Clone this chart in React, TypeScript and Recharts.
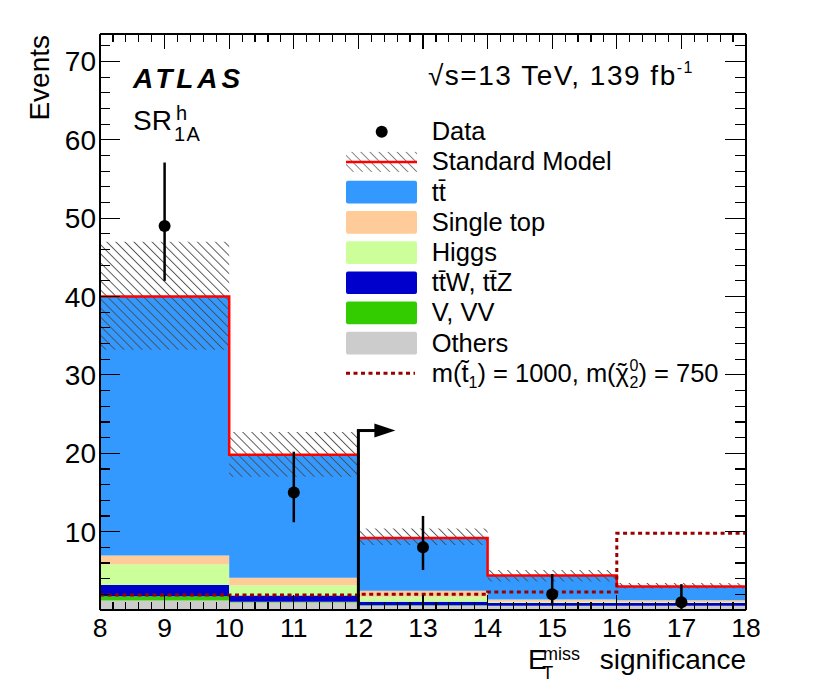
import React from "react";
import {
  ComposedChart,
  Area,
  Line,
  Scatter,
  ErrorBar,
  XAxis,
  YAxis,
  ReferenceLine,
  ReferenceDot,
} from "recharts";

const FONT = "'Liberation Sans', Arial, Helvetica, sans-serif";

// ---------- data ----------
const binEdges = [8, 10, 12, 14, 16, 18];
const others = [1.2, 0.95, 0.55, 0.5, 0.5];
const vVV = [0.55, 0.1, 0.05, 0.05, 0.05];
const ttV = [1.45, 0.8, 0.45, 0.35, 0.35];
const higgs = [2.6, 1.3, 0.65, 0.15, 0.1];
const singleTop = [1.15, 0.95, 0.75, 0.3, 0.25];
const ttbar = [33.05, 15.7, 6.75, 3.05, 1.75];
const smTotal = [40.0, 19.8, 9.2, 4.4, 3.0];
const smErrLow = [33.2, 17.0, 8.3, 3.65, 2.75];
const smErrHigh = [47.0, 22.7, 10.4, 5.1, 3.45];
const signal = [1.9, 1.9, 2.0, 2.3, 9.8];

const dataX = [9, 11, 13, 15, 17];
const dataY = [49, 15, 8, 2, 1];
const dataErrDown = [7.0, 3.8, 2.9, 1.4, 0.85];
const dataErrUp = [8.1, 5.2, 4.0, 2.6, 2.3];

const xMajorTicks = [8, 9, 10, 11, 12, 13, 14, 15, 16, 17, 18];
const yMajorTicks = [0, 10, 20, 30, 40, 50, 60, 70];
const xDomain = [8, 18];
const yDomain = [0, 73.5];
const cutX = 12;
const cutArrowY = 22.9;

const COLORS = {
  ttbar: "#3399ff",
  singleTop: "#ffcc99",
  higgs: "#ccff99",
  ttV: "#0000cc",
  vVV: "#33cc00",
  others: "#cccccc",
  sm: "#ff0000",
  signal: "#990000",
};

// minor ticks (axis decoration only)
const xTicks: number[] = [];
for (let i = 0; i <= 50; i++) xTicks.push(+(8 + i * 0.2).toFixed(1));
const yTicks: number[] = [];
for (let v = 0; v <= 72; v += 2) yTicks.push(v);

const histData = binEdges.map((x, i) => {
  const j = Math.min(i, smTotal.length - 1);
  return {
    x,
    others: others[j],
    vvv: vVV[j],
    ttv: ttV[j],
    higgs: higgs[j],
    singleTop: singleTop[j],
    ttbar: ttbar[j],
    total: smTotal[j],
    band: [smErrLow[j], smErrHigh[j]],
    signal: signal[j],
  };
});

const points = dataX.map((x, i) => ({
  x,
  y: dataY[i],
  err: [dataErrDown[i], dataErrUp[i]],
}));

const isMajorX = (v: number) => xMajorTicks.some((m) => Math.abs(m - v) < 1e-6);
const isMajorY = (v: number) => yMajorTicks.includes(v);

const TICK_W = 1.2;

const BottomTick = (props: any) => {
  const { x, y, payload } = props;
  const v = payload.value;
  const major = isMajorX(v);
  return (
    <g>
      <line x1={x} x2={x} y1={y} y2={y - (major ? 15 : 8)} stroke="#000" strokeWidth={TICK_W} shapeRendering="crispEdges" />
      {major && (
        <text x={x} y={y + 27} textAnchor="middle" fontSize={26.5} fontFamily={FONT} fill="#000">
          {Math.round(v)}
        </text>
      )}
    </g>
  );
};

const TopTick = (props: any) => {
  const { x, y, payload } = props;
  const major = isMajorX(payload.value);
  return <line x1={x} x2={x} y1={y} y2={y + (major ? 15 : 8)} stroke="#000" strokeWidth={TICK_W} shapeRendering="crispEdges" />;
};

const LeftTick = (props: any) => {
  const { x, y, payload } = props;
  const v = payload.value;
  const major = isMajorY(v);
  return (
    <g>
      <line x1={x} x2={x + (major ? 20 : 10)} y1={y} y2={y} stroke="#000" strokeWidth={TICK_W} shapeRendering="crispEdges" />
      {major && v !== 0 && (
        <text x={x - 4} y={y + 10} textAnchor="end" fontSize={28} fontFamily={FONT} fill="#000">
          {v}
        </text>
      )}
    </g>
  );
};

const RightTick = (props: any) => {
  const { x, y, payload } = props;
  const major = isMajorY(payload.value);
  return <line x1={x} x2={x - (major ? 21 : 11)} y1={y} y2={y} stroke="#000" strokeWidth={TICK_W} shapeRendering="crispEdges" />;
};

const DataDot = (props: any) => <circle cx={props.cx} cy={props.cy} r={6} fill="#000" />;

const ArrowHead = (props: any) => {
  const { cx, cy } = props;
  return (
    <g>
      <path d={`M${cx - 1.5},${cy} H${cx + 18}`} stroke="#000" strokeWidth={3} fill="none" />
      <polygon points={`${cx + 16},${cy - 7} ${cx + 37},${cy} ${cx + 16},${cy + 7}`} fill="#000" />
    </g>
  );
};

const legendItems = [
  { kind: "dot", label: "Data" },
  { kind: "sm", label: "Standard Model" },
  { kind: "box", color: COLORS.ttbar, label: "tt\u0304" },
  { kind: "box", color: COLORS.singleTop, label: "Single top" },
  { kind: "box", color: COLORS.higgs, label: "Higgs" },
  { kind: "box", color: COLORS.ttV, label: "tt\u0304W, tt\u0304Z" },
  { kind: "box", color: COLORS.vVV, label: "V, VV" },
  { kind: "box", color: COLORS.others, label: "Others" },
  { kind: "sig", label: "" },
];

const W = 822;
const H = 678;

export default function App() {
  const axisLine = { stroke: "#000", strokeWidth: 1.3, shapeRendering: "crispEdges" };
  const legX = 338;
  const legTextX = 423.7;
  const legY0 = 123.7;
  const legStep = 30.2;
  const lf = 25.5;
  return (
    <div style={{ position: "relative", width: W, height: H, fontFamily: FONT }}>
      <ComposedChart width={W} height={H} data={histData} margin={{ top: 25, right: 83, bottom: 0, left: 0 }}>
        <defs>
          <pattern id="hatch" patternUnits="userSpaceOnUse" width={6.4} height={6.4} patternTransform="rotate(-45)">
            <line x1={0.5} y1={0} x2={0.5} y2={6.4} stroke="#4a4a4a" strokeWidth={0.9} />
          </pattern>
        </defs>
        <Area dataKey="others" stackId="sm" type="stepAfter" fill={COLORS.others} fillOpacity={1} stroke="none" isAnimationActive={false} />
        <Area dataKey="vvv" stackId="sm" type="stepAfter" fill={COLORS.vVV} fillOpacity={1} stroke="none" isAnimationActive={false} />
        <Area dataKey="ttv" stackId="sm" type="stepAfter" fill={COLORS.ttV} fillOpacity={1} stroke="none" isAnimationActive={false} />
        <Area dataKey="higgs" stackId="sm" type="stepAfter" fill={COLORS.higgs} fillOpacity={1} stroke="none" isAnimationActive={false} />
        <Area dataKey="singleTop" stackId="sm" type="stepAfter" fill={COLORS.singleTop} fillOpacity={1} stroke="none" isAnimationActive={false} />
        <Area dataKey="ttbar" stackId="sm" type="stepAfter" fill={COLORS.ttbar} fillOpacity={1} stroke="none" isAnimationActive={false} />
        <Area dataKey="band" type="stepAfter" fill="url(#hatch)" fillOpacity={1} stroke="none" isAnimationActive={false} />
        <Line dataKey="total" type="stepAfter" stroke={COLORS.sm} strokeWidth={2.5} dot={false} activeDot={false} isAnimationActive={false} />
        <Line dataKey="signal" type="stepAfter" stroke={COLORS.signal} strokeWidth={3} strokeDasharray="4 3.5" dot={false} activeDot={false} isAnimationActive={false} />
        <ReferenceLine segment={[{ x: cutX, y: 0 }, { x: cutX, y: cutArrowY }]} stroke="#000" strokeWidth={3} />
        <ReferenceDot x={cutX} y={cutArrowY} r={0} shape={ArrowHead} />
        <Scatter data={points} dataKey="y" shape={DataDot} isAnimationActive={false}>
          <ErrorBar dataKey="err" direction="y" width={0} stroke="#000" strokeWidth={2.5} />
        </Scatter>
        <XAxis
          dataKey="x"
          type="number"
          domain={xDomain}
          ticks={xTicks}
          interval={0}
          tickSize={0}
          tickMargin={0}
          tickLine={false}
          tick={(p: any) => <BottomTick {...p} />}
          axisLine={axisLine}
          height={76}
          allowDataOverflow
        />
        <XAxis
          xAxisId="t"
          orientation="top"
          dataKey="x"
          type="number"
          domain={xDomain}
          ticks={xTicks}
          interval={0}
          tickSize={0}
          tickMargin={0}
          tickLine={false}
          tick={(p: any) => <TopTick {...p} />}
          axisLine={axisLine}
          height={1}
          allowDataOverflow
        />
        <YAxis
          type="number"
          domain={yDomain}
          ticks={yTicks}
          interval={0}
          tickSize={0}
          tickMargin={0}
          tickLine={false}
          tick={(p: any) => <LeftTick {...p} />}
          axisLine={axisLine}
          width={92}
          allowDataOverflow
        />
        <YAxis
          yAxisId="r"
          orientation="right"
          type="number"
          domain={yDomain}
          ticks={yTicks}
          interval={0}
          tickSize={0}
          tickMargin={0}
          tickLine={false}
          tick={(p: any) => <RightTick {...p} />}
          axisLine={axisLine}
          width={1}
          allowDataOverflow
        />
      </ComposedChart>
      <svg width={W} height={H} style={{ position: "absolute", left: 0, top: 0, pointerEvents: "none" }}>
        <defs>
          <pattern id="hatchLeg" patternUnits="userSpaceOnUse" width={6.4} height={6.4} patternTransform="rotate(-45)">
            <line x1={0.5} y1={0} x2={0.5} y2={6.4} stroke="#777" strokeWidth={0.9} />
          </pattern>
        </defs>
        {/* y axis title */}
        <text transform="rotate(-90)" x={-27} y={41} textAnchor="end" fontSize={28} fontFamily={FONT} fill="#000">
          Events
        </text>
        {/* x axis title */}
        <text fontFamily={FONT} fill="#000" fontSize={28}>
          <tspan x={520} y={661}>E</tspan>
        </text>
        <text fontFamily={FONT} fill="#000" fontSize={18}>
          <tspan x={534.3} y={671.3}>T</tspan>
        </text>
        <text fontFamily={FONT} fill="#000" fontSize={18}>
          <tspan x={535} y={652}>miss</tspan>
        </text>
        <text x={738} y={661} textAnchor="end" fontFamily={FONT} fontSize={28} fill="#000">
          significance
        </text>
        {/* ATLAS */}
        <text x={125} y={80} fontFamily={FONT} fontSize={28} fontWeight="bold" fontStyle="italic" letterSpacing={4} fill="#000">
          ATLAS
        </text>
        <text fontFamily={FONT} fill="#000" fontSize={28}>
          <tspan x={125} y={122}>SR</tspan>
        </text>
        <text fontFamily={FONT} fill="#000" fontSize={20}>
          <tspan x={168} y={112}>h</tspan>
        </text>
        <text fontFamily={FONT} fill="#000" fontSize={20} letterSpacing={1.5}>
          <tspan x={166} y={133}>1A</tspan>
        </text>
        <text x={420} y={77} fontFamily={FONT} fontSize={28} letterSpacing={1.5} fill="#000">
          √s=13 TeV, 139 fb<tspan fontSize={16} dy={-12}>-1</tspan>
        </text>
        {/* legend */}
        {legendItems.map((it, i) => {
          const c = legY0 + i * legStep;
          let marker: any = null;
          if (it.kind === "dot") marker = <circle cx={373.7} cy={c} r={6} fill="#000" />;
          else if (it.kind === "sm")
            marker = (
              <g>
                <rect x={legX} y={c - 10} width={71} height={20} fill="url(#hatchLeg)" />
                <line x1={legX} x2={legX + 71} y1={c} y2={c} stroke={COLORS.sm} strokeWidth={2.5} />
              </g>
            );
          else if (it.kind === "box")
            marker = <rect x={legX} y={c - 11.3} width={71} height={22.7} rx={2} fill={it.color} />;
          else
            marker = (
              <line x1={legX} x2={legX + 69} y1={c} y2={c} stroke={COLORS.signal} strokeWidth={3} strokeDasharray="4 3.5" />
            );
          return (
            <g key={i}>
              {marker}
              {it.kind === "sig" ? (
                <text x={legTextX} y={c + 8.5} fontFamily={FONT} fontSize={lf} fill="#000">
                  m(t{"\u0303"}
                  <tspan fontSize={16} dy={6}>1</tspan>
                  <tspan dy={-6}>) = 1000, m(χ</tspan>
                  <tspan dx={-11} dy={-1}>{"\u02DC"}</tspan>
                  <tspan fontSize={16} dx={3} dy={-10}>0</tspan>
                  <tspan fontSize={16} dx={-8.9} dy={17}>2</tspan>
                  <tspan dy={-6}>) = 750</tspan>
                </text>
              ) : (
                <text x={legTextX} y={c + 8.5} fontFamily={FONT} fontSize={lf} fill="#000">
                  {it.label}
                </text>
              )}
            </g>
          );
        })}
      </svg>
    </div>
  );
}
